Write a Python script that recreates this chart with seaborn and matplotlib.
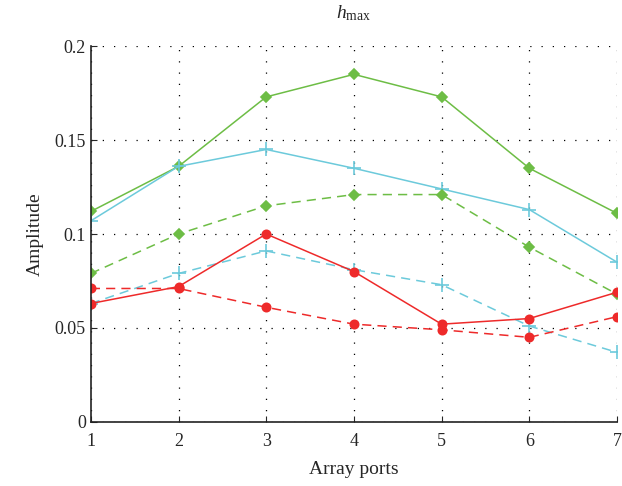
import numpy as np
import pandas as pd
import matplotlib.pyplot as plt
import seaborn as sns

sns.set_style("ticks")
plt.rcParams['font.family'] = ['Liberation Serif', 'DejaVu Serif']
plt.rcParams['mathtext.fontset'] = 'custom'
plt.rcParams['mathtext.rm'] = 'Liberation Serif'
plt.rcParams['mathtext.it'] = 'Liberation Serif:italic'

ports = [1, 2, 3, 4, 5, 6, 7]
green_solid = [0.112, 0.136, 0.173, 0.185, 0.173, 0.135, 0.111]
cyan_solid = [0.107, 0.136, 0.145, 0.135, 0.124, 0.113, 0.085]
green_dashed = [0.079, 0.100, 0.115, 0.121, 0.121, 0.093, 0.068]
cyan_dashed = [0.063, 0.079, 0.091, 0.081, 0.073, 0.051, 0.037]
red_solid = [0.063, 0.072, 0.100, 0.080, 0.052, 0.055, 0.069]
red_dashed = [0.071, 0.071, 0.061, 0.052, 0.049, 0.045, 0.056]

dash = (0, (6, 4))
series = [
    (green_solid, '#6dbd45', '-', 'D', 5),
    (cyan_solid, '#6ccadb', '-', '+', 10),
    (green_dashed, '#6dbd45', dash, 'D', 5),
    (cyan_dashed, '#6ccadb', dash, '+', 10),
    (red_solid, '#ee2a2a', '-', 'o', 6),
    (red_dashed, '#ee2a2a', dash, 'o', 6),
]

fig = plt.figure(figsize=(6.22, 4.86), dpi=100)
ax = fig.add_axes([0.146, 0.132, 0.846, 0.773])

for vals, col, ls, mk, ms in series:
    df = pd.DataFrame({'port': ports, 'amp': vals})
    sns.lineplot(data=df, x='port', y='amp', ax=ax, color=col, linestyle=ls,
                 marker=mk, markersize=ms, markeredgecolor=col,
                 markeredgewidth=1.2, linewidth=1.1)

ax.set_xlim(1, 7)
ax.set_ylim(0, 0.2)
ax.set_xticks(ports)
ax.set_yticks([0, 0.05, 0.1, 0.15, 0.2])
ax.set_yticklabels(['0', '0.05', '0.1', '0.15', '0.2'])
ax.grid(True, linestyle=(0, (1, 8)), color='black', linewidth=0.9)
ax.tick_params(direction='in', labelsize=13, length=4)
ax.tick_params(axis='x', pad=8)
sns.despine(ax=ax)
for s in ['left', 'bottom']:
    ax.spines[s].set_linewidth(1.2)
    ax.spines[s].set_color('#222222')
ax.set_xlabel('Array ports', fontsize=14, labelpad=8)
ax.set_ylabel('Amplitude', fontsize=14, labelpad=8)
ax.set_title(r'$h_{\mathrm{max}}$', fontsize=14, pad=20)

fig.savefig('out.png', dpi=100)
